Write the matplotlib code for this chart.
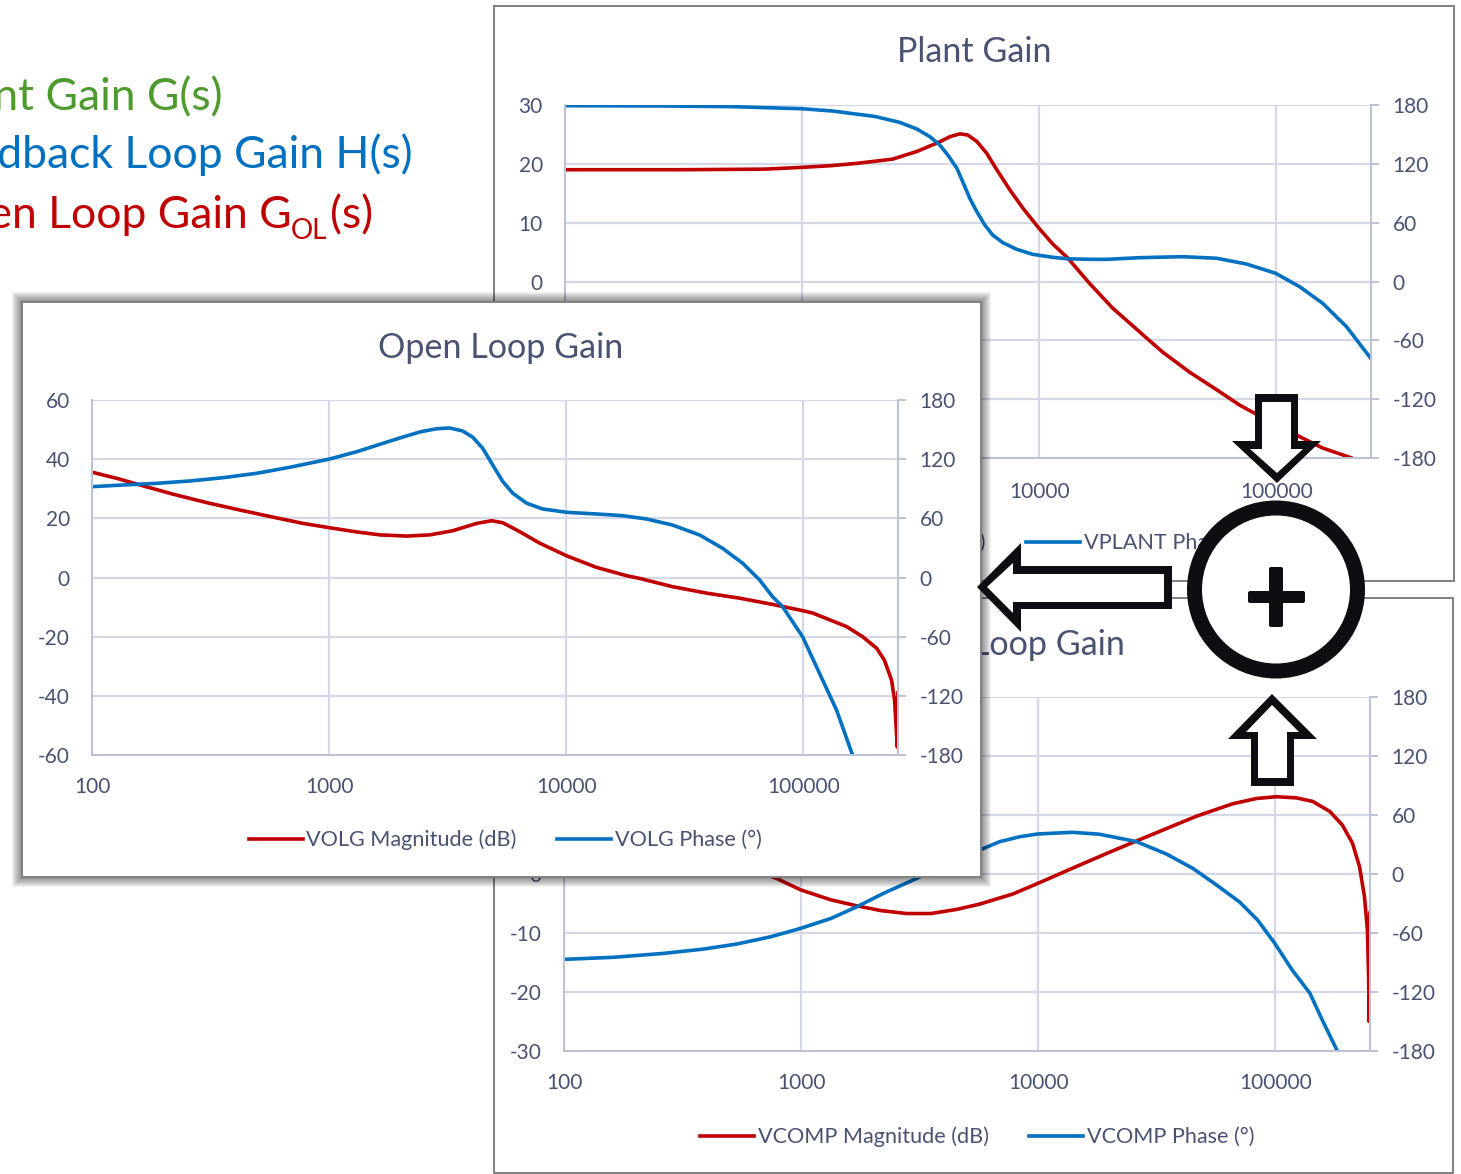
import matplotlib
matplotlib.use('Agg')
import matplotlib.pyplot as plt
from matplotlib.patches import Rectangle, Polygon, Circle, FancyBboxPatch

W, H = 1461, 1174
plt.rcParams['font.family'] = ['Lato', 'DejaVu Sans']
plt.rcParams['axes.unicode_minus'] = False

# plant gain
plant_mag_f = [100, 311, 697, 998, 1340, 1720, 2410, 3050, 3740, 4200, 4630, 5000, 5460, 6010, 6630, 7520, 8530, 9960, 11400, 13200, 16300, 20400, 26600, 33200, 43100, 56100, 70100, 81100, 126000, 157000, 208000]
plant_mag = [19.0, 19.0, 19.1, 19.4, 19.7, 20.1, 20.8, 22.1, 23.6, 24.6, 25.1, 24.9, 23.8, 21.8, 19.0, 15.6, 12.5, 9.1, 6.4, 4.0, -0.3, -4.5, -8.6, -12.0, -15.4, -18.4, -21.0, -22.4, -26.4, -28.3, -30.0]
plant_ph_f = [100, 264, 506, 998, 1340, 2030, 2580, 3050, 3460, 3810, 4120, 4500, 4760, 5100, 5460, 5900, 6370, 7030, 8050, 9400, 11400, 13200, 16800, 19300, 26600, 40300, 56100, 75000, 99400, 125600, 157000, 198000, 250000]
plant_ph = [179.3, 179.0, 178.3, 176.2, 173.9, 168.3, 162.3, 155.5, 147.7, 139.2, 129.0, 115.4, 101.8, 84.8, 71.2, 57.6, 47.4, 39.6, 32.8, 27.7, 24.7, 23.1, 22.6, 22.6, 24.3, 25.3, 23.7, 17.8, 8.4, -5.3, -22.2, -46.1, -78.0]

# compensator / feedback gain
comp_mag_f = [100, 172, 374, 670, 783, 998, 1340, 1720, 2170, 2790, 3530, 4540, 5670, 7810, 9960, 14000, 19500, 26000, 34800, 46600, 66100, 83500, 101000, 123000, 144000, 170000, 192000, 212000, 227000, 238000, 245000, 248000, 249000, 251000]
comp_mag = [16.6, 12.0, 4.9, 0.3, -0.7, -2.7, -4.4, -5.4, -6.2, -6.7, -6.7, -6.0, -5.1, -3.4, -1.6, 1.0, 3.5, 5.6, 7.7, 9.8, 11.9, 12.8, 13.1, 12.9, 12.3, 10.6, 8.3, 5.2, 1.2, -3.8, -9.5, -18.0, -25.0, -6.6]
comp_ph_f = [100, 162, 264, 389, 536, 746, 998, 1340, 1720, 2230, 3080, 4240, 5670, 6890, 8360, 9960, 14000, 18200, 26000, 34800, 44900, 56600, 70800, 84300, 99400, 118000, 140000, 158000, 183000]
comp_ph = [-86.8, -84.7, -80.7, -76.3, -71.2, -63.8, -55.2, -45.1, -33.3, -19.6, -4.4, 12.2, 24.4, 32.9, 37.9, 40.7, 42.4, 40.4, 32.9, 20.3, 5.8, -11.2, -28.5, -46.8, -70.2, -97.7, -121.1, -148.5, -180.1]

# open loop gain
olg_mag_f = [100, 127.5, 164, 219, 305, 421, 580, 775, 1008, 1310, 1640, 2130, 2660, 3320, 4200, 4850, 5410, 6370, 7740, 10070, 13450, 18000, 20400, 28100, 39200, 54000, 74300, 99400, 109600, 152500, 178000, 204000, 220000, 236000, 243000, 249500, 251000]
olg_mag = [35.6, 33.5, 31.0, 28.2, 25.3, 22.8, 20.4, 18.3, 16.8, 15.4, 14.4, 14.0, 14.4, 15.8, 18.3, 19.2, 18.5, 15.5, 11.6, 7.3, 3.4, 0.6, -0.3, -3.1, -5.3, -7.0, -9.1, -11.2, -12.0, -16.6, -20.0, -23.9, -27.9, -34.7, -41.4, -57.3, -39.0]
olg_ph_f = [100, 135, 188, 259, 357, 496, 684, 1008, 1310, 1640, 1990, 2415, 2850, 3230, 3660, 4040, 4450, 4900, 5410, 5960, 6820, 7960, 10070, 13450, 17300, 21900, 28100, 36600, 45700, 55600, 65500, 74300, 81900, 99400, 120800, 138300, 161500]
olg_ph = [92.1, 93.8, 95.5, 97.9, 101.2, 105.7, 111.8, 120.2, 127.6, 135.1, 141.5, 147.6, 150.9, 151.6, 148.6, 142.2, 131.0, 114.1, 97.2, 85.4, 75.3, 69.5, 66.1, 64.4, 62.7, 59.3, 53.2, 43.1, 29.6, 14.4, -2.5, -19.5, -29.6, -60.0, -104.0, -134.4, -180.0]

mag_ticks = [-30, -20, -10, 0, 10, 20, 30]
olg_ticks = [-60, -40, -20, 0, 20, 40, 60]
ph_ticks = [-180, -120, -60, 0, 60, 120, 180]
freq_ticks = [100, 1000, 10000, 100000]

RED = '#C00000'
BLUE = '#0070C0'
GREEN = '#4E9A2E'
TXT = '#4A5272'
GRID = '#D6D8E6'
AXC = '#BCC1D6'
INK = '#0D0E12'
FS = 15


def page(z):
    a = fig.add_axes([0, 0, 1, 1], zorder=z)
    a.set_xlim(0, W)
    a.set_ylim(H, 0)
    a.axis('off')
    a.patch.set_alpha(0)
    return a


def panel(z, frame, box, title, tpos, mag, ph, ylim, yt, names, legpos, xpad=16, shadow=False):
    bg = page(z)
    x0, y0, x1, y1 = frame
    if shadow:
        for i in range(10, 0, -1):
            bg.add_patch(Rectangle((x0 - i, y0 - i), x1 - x0 + 2 * i, y1 - y0 + 2 * i, fc='black', ec='none', alpha=0.05))
    bg.add_patch(Rectangle((x0, y0), x1 - x0, y1 - y0, fc='white', ec='#808080', lw=1.4))
    l, t, r, b = box
    ax = fig.add_axes([l / W, 1 - b / H, (r - l) / W, (b - t) / H], zorder=z + 1)
    ax.set_xscale('log')
    ax.set_xlim(100, 251189)
    ax.set_ylim(*ylim)
    ax.set_yticks(yt)
    ax.set_xticks(freq_ticks)
    ax.set_xticklabels([str(v) for v in freq_ticks])
    ax.minorticks_off()
    ax.grid(True, color=GRID, lw=1.6)
    ax.set_axisbelow(True)
    ax.tick_params(axis='y', length=0, pad=16, labelsize=FS, labelcolor=TXT)
    ax.tick_params(axis='x', length=0, pad=xpad, labelsize=FS, labelcolor=TXT)
    ax.spines['top'].set_visible(False)
    for s in ['left', 'bottom', 'right']:
        ax.spines[s].set_color(AXC)
        ax.spines[s].set_linewidth(1.4)
    l1, = ax.plot(mag[0], mag[1], color=RED, lw=2.6, solid_joinstyle='round')
    ax2 = ax.twinx()
    ax2.set_ylim(-180, 180)
    ax2.set_yticks(ph_ticks)
    ax2.minorticks_off()
    ax2.tick_params(axis='y', length=6, width=1.4, color=AXC, pad=9.5, labelsize=FS, labelcolor=TXT)
    ax2.spines['top'].set_visible(False)
    for s in ['left', 'bottom', 'right']:
        ax2.spines[s].set_color(AXC)
        ax2.spines[s].set_linewidth(1.4)
    l2, = ax2.plot(ph[0], ph[1], color=BLUE, lw=2.6, solid_joinstyle='round')
    ax2.text(tpos[0] / W, 1 - tpos[1] / H, title, transform=fig.transFigure, ha='center', va='center', fontsize=24.6, color=TXT)
    ax2.legend([l1, l2], names, loc='center', bbox_to_anchor=(legpos[0] / W, 1 - legpos[1] / H), bbox_transform=fig.transFigure,
               ncol=2, frameon=False, fontsize=15.6, labelcolor=TXT, handlelength=2.49, handletextpad=0.18, columnspacing=1.84,
               borderpad=0)
    return ax, ax2


fig = plt.figure(figsize=(W / 100, H / 100), dpi=100, facecolor='white')

# heading text, cut off by the left edge in the source
head = page(0)
head.text(222, 98, 'Plant Gain G(s)', color=GREEN, fontsize=32, ha='right', va='center')
head.text(413, 155, 'Feedback Loop Gain H(s)', color=BLUE, fontsize=32, ha='right', va='center')
head.text(373, 216, '(s)', color=RED, fontsize=32, ha='right', va='center')
head.text(327, 231, 'OL', color=RED, fontsize=20, ha='right', va='center')
head.text(292, 216, 'Open Loop Gain G', color=RED, fontsize=32, ha='right', va='center')

panel(2, (494, 6, 1454, 581), (565, 105, 1371, 458), 'Plant Gain', (974, 52),
      (plant_mag_f, plant_mag), (plant_ph_f, plant_ph), (-30, 30), mag_ticks,
      ['VPLANT Magnitude (dB)', 'VPLANT Phase (°)'], (974, 543), xpad=17.5)
panel(5, (494, 598, 1453, 1173), (564, 697, 1370, 1051), 'Feedback Loop Gain', (972, 645),
      (comp_mag_f, comp_mag), (comp_ph_f, comp_ph), (-30, 30), mag_ticks,
      ['VCOMP Magnitude (dB)', 'VCOMP Phase (°)'], (977, 1137))
panel(8, (22, 302, 981, 877), (92, 400, 898, 755), 'Open Loop Gain', (501, 348),
      (olg_mag_f, olg_mag), (olg_ph_f, olg_ph), (-60, 60), olg_ticks,
      ['VOLG Magnitude (dB)', 'VOLG Phase (°)'], (505, 840), shadow=True)

# arrows and summing node on top of everything
top = page(12)
down_o = [(1255, 394), (1298, 394), (1298, 441), (1321, 441), (1277, 483), (1232, 441), (1255, 441)]
down_i = [(1262, 402), (1291, 402), (1291, 449), (1303, 449), (1277, 473), (1250, 449), (1262, 449)]
left_o = [(977, 587), (1021, 543), (1021, 566), (1172, 566), (1172, 609), (1021, 609), (1021, 632)]
left_i = [(987, 587), (1013, 563), (1013, 574), (1164, 574), (1164, 602), (1013, 602), (1013, 613)]
up_o = [(1272, 694), (1317, 739), (1294, 739), (1294, 786), (1251, 786), (1251, 739), (1228, 739)]
up_i = [(1272, 705), (1299, 732), (1287, 732), (1287, 778), (1258, 778), (1258, 732), (1246, 732)]
for o, i in [(down_o, down_i), (left_o, left_i), (up_o, up_i)]:
    top.add_patch(Polygon(o, closed=True, fc=INK, ec='none'))
    top.add_patch(Polygon(i, closed=True, fc='white', ec='none'))
top.add_patch(Circle((1276, 589.5), 89, fc=INK, ec='none'))
top.add_patch(Circle((1276, 589.5), 74, fc='white', ec='none'))
top.add_patch(FancyBboxPatch((1250, 593), 53, 8, boxstyle='round,pad=2', fc=INK, ec='none'))
top.add_patch(FancyBboxPatch((1271, 569), 10, 56, boxstyle='round,pad=2', fc=INK, ec='none'))

fig.savefig('out.png', dpi=100)
